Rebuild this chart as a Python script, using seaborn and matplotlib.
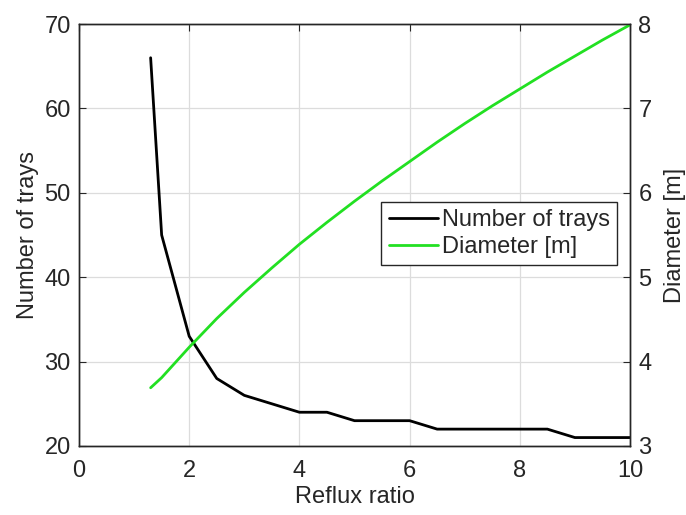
import numpy as np
import pandas as pd
import matplotlib
matplotlib.use("Agg")
import matplotlib.pyplot as plt
import seaborn as sns

# Data
reflux_ratio = [1.3, 1.5, 2.0, 2.5, 3.0, 3.5, 4.0, 4.5, 5.0, 5.5, 6.0, 6.5,
                7.0, 7.5, 8.0, 8.5, 9.0, 9.5, 10.0]
number_of_trays = [66, 45, 33, 28, 26, 25, 24, 24, 23, 23, 23, 22,
                   22, 22, 22, 22, 21, 21, 21]
diameter_m = [3.69, 3.81, 4.17, 4.51, 4.82, 5.11, 5.39, 5.65, 5.90, 6.14, 6.37, 6.60,
              6.82, 7.03, 7.23, 7.43, 7.62, 7.81, 7.99]

x_ticks = [0, 2, 4, 6, 8, 10]
left_ticks = [20, 30, 40, 50, 60, 70]
right_ticks = [3, 4, 5, 6, 7, 8]

df = pd.DataFrame({"Reflux ratio": reflux_ratio,
                   "Number of trays": number_of_trays,
                   "Diameter [m]": diameter_m})

sns.set_style("white")
plt.rcParams["font.family"] = ["Liberation Sans", "DejaVu Sans"]
TXT = "#262626"
plt.rcParams["text.color"] = TXT
plt.rcParams["axes.labelcolor"] = TXT
plt.rcParams["xtick.color"] = TXT
plt.rcParams["ytick.color"] = TXT

FS = 17

fig = plt.figure(figsize=(6.86, 5.15), dpi=100)
ax = fig.add_axes([79 / 686, (515 - 446) / 515, 551 / 686, 422 / 515])

sns.lineplot(data=df, x="Reflux ratio", y="Number of trays", ax=ax,
             color="black", lw=2, label="Number of trays", legend=False)
ax2 = ax.twinx()
sns.lineplot(data=df, x="Reflux ratio", y="Diameter [m]", ax=ax2,
             color="#22e022", lw=2, label="Diameter [m]", legend=False)

ax.set_xlim(0, 10)
ax.set_ylim(20, 70)
ax2.set_ylim(3, 8)
ax.set_xticks(x_ticks)
ax.set_yticks(left_ticks)
ax2.set_yticks(right_ticks)

ax.grid(True, color="#dcdcdc", lw=0.9)
ax.set_axisbelow(True)

for a in (ax, ax2):
    for s in a.spines.values():
        s.set_color(TXT)
        s.set_linewidth(1.0)
        s.set_visible(True)

ax.tick_params(axis="x", direction="in", length=5, width=0.8,
               labelsize=FS, top=True, pad=10)
ax.tick_params(axis="y", direction="in", length=5, width=0.8,
               labelsize=FS, right=False, pad=6)
ax2.tick_params(axis="y", direction="in", length=5, width=0.8,
                labelsize=FS, pad=6)

ax.set_xlabel("Reflux ratio", fontsize=FS, labelpad=3)
ax.set_ylabel("Number of trays", fontsize=FS, labelpad=4)
ax2.set_ylabel("Diameter [m]", fontsize=FS, labelpad=9)

h1, l1 = ax.get_legend_handles_labels()
h2, l2 = ax2.get_legend_handles_labels()
leg = ax2.legend(h1 + h2, l1 + l2, loc="upper right",
                 bbox_to_anchor=(0.976, 0.578), fontsize=FS,
                 frameon=True, fancybox=False, framealpha=1,
                 edgecolor=TXT, handlelength=2.1, handletextpad=0.15,
                 borderpad=0.3, labelspacing=0.2, borderaxespad=0)
leg.get_frame().set_linewidth(1.0)

fig.savefig("out.png", dpi=100)
